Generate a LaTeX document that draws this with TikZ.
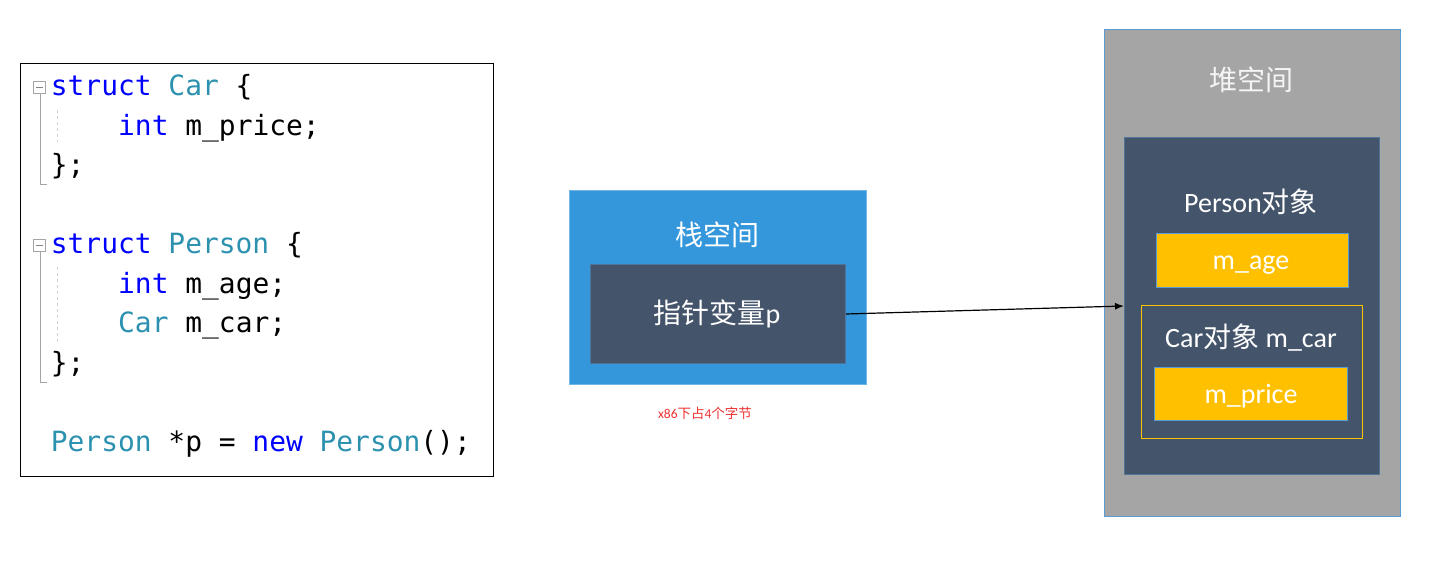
\documentclass[tikz,border=0pt]{standalone}
\usepackage{fontspec}
\setmainfont{Carlito}
\setmonofont{DejaVu Sans Mono}
\newfontfamily\cjk{Noto Sans CJK SC}
\usetikzlibrary{arrows.meta}
\definecolor{kw}{RGB}{0,0,255}
\definecolor{ty}{RGB}{43,145,175}
\definecolor{stackblue}{RGB}{53,151,219}
\definecolor{darkslate}{RGB}{68,84,106}
\definecolor{heapgray}{RGB}{165,165,165}
\definecolor{gold}{RGB}{255,192,0}
\definecolor{edgeblue}{RGB}{91,155,213}
\definecolor{redtxt}{RGB}{238,48,48}
\definecolor{foldgray}{RGB}{165,165,165}
\begin{document}
\begin{tikzpicture}[x=1pt,y=-1pt,
  codeline/.style={anchor=base west, inner sep=0pt, font=\ttfamily\fontsize{27.9}{30}\selectfont},
  rect/.style 2 args={anchor=north west, inner sep=0pt, minimum width=#1pt, minimum height=#2pt},
  lbl/.style={inner sep=0pt, anchor=base, text=white, font=\fontsize{28}{30}\selectfont}]
\useasboundingbox (0,0) rectangle (1436,561);
% code panel
\node[rect={473}{413}, draw=black, line width=1pt] (code) at (20,63) {};
\draw[foldgray, line width=0.8pt] (33,81) rectangle (45,93);
\draw[foldgray!80!black, line width=0.9pt] (35.5,87) -- (42.5,87);
\draw[foldgray, line width=1pt] (40,93) -- (40,185) -- (47,185);
\draw[foldgray, line width=0.8pt] (33,239) rectangle (45,251);
\draw[foldgray!80!black, line width=0.9pt] (35.5,245) -- (42.5,245);
\draw[foldgray, line width=1pt] (40,251) -- (40,383) -- (47,383);
\draw[foldgray!50, line width=0.8pt, dash pattern=on 3pt off 3pt] (57,110) -- (57,142);
\draw[foldgray!50, line width=0.8pt, dash pattern=on 3pt off 3pt] (57,267) -- (57,343);
\node[codeline] (c0) at (50.7,96) {\textcolor{kw}{struct} \textcolor{ty}{Car} \{};
\node[codeline] (c1) at (118,135.5) {\textcolor{kw}{int} m\_price;};
\node[codeline] (c2) at (50.7,175) {\};};
\node[codeline] (c4) at (50.7,254) {\textcolor{kw}{struct} \textcolor{ty}{Person} \{};
\node[codeline] (c5) at (118,293.5) {\textcolor{kw}{int} m\_age;};
\node[codeline] (c6) at (118,333) {\textcolor{ty}{Car} m\_car;};
\node[codeline] (c7) at (50.7,372.5) {\};};
\node[codeline] (c9) at (50.7,451.5) {\textcolor{ty}{Person} *p = \textcolor{kw}{new} \textcolor{ty}{Person}();};
% stack
\node[rect={297}{194}, fill=stackblue, draw=stackblue!70!white, line width=0.8pt] (stack) at (569,190) {};
\node[lbl, font=\cjk\fontsize{28}{30}\selectfont] (stacktitle) at (717,245.5) {栈空间};
\node[rect={255}{99}, fill=darkslate, draw=edgeblue!45!darkslate, line width=1pt] (ptr) at (590,264) {};
\node[lbl] (ptrlabel) at (717,324) {{\cjk 指针变量}p};
\node[inner sep=0pt, anchor=base, text=redtxt, font=\fontsize{13.5}{15}\selectfont] (note) at (705,418) {x86{\cjk 下占}4{\cjk 个字节}};
% heap
\node[rect={296}{487}, fill=heapgray, draw=edgeblue, line width=1.2pt] (heap) at (1104,29) {};
\node[lbl, text=gray!8, font=\cjk\fontsize{28}{30}\selectfont] (heaptitle) at (1251,90.5) {堆空间};
\node[rect={255}{337}, fill=darkslate, draw=edgeblue!45!darkslate, line width=1pt] (pobj) at (1124,137) {};
\node[lbl] (pobjlabel) at (1251,213) {Person{\cjk 对象}};
\node[rect={192}{54}, fill=gold, draw=edgeblue, line width=0.8pt] (mage) at (1156,233) {};
\node[lbl] (magelabel) at (1251,270) {m\_age};
\node[rect={221}{133}, draw=gold, line width=1pt] (carobj) at (1141,305) {};
\node[lbl] (carlabel) at (1251,348) {Car{\cjk 对象} m\_car};
\node[rect={193}{53}, fill=gold, draw=edgeblue, line width=0.8pt] (mprice) at (1154,367) {};
\node[lbl] (mpricelabel) at (1251,403) {m\_price};
% pointer
\draw[-{Latex[length=9pt,width=7pt]}, line width=1.2pt] (ptr.east) -- (pobj.west);
\end{tikzpicture}
\end{document}
